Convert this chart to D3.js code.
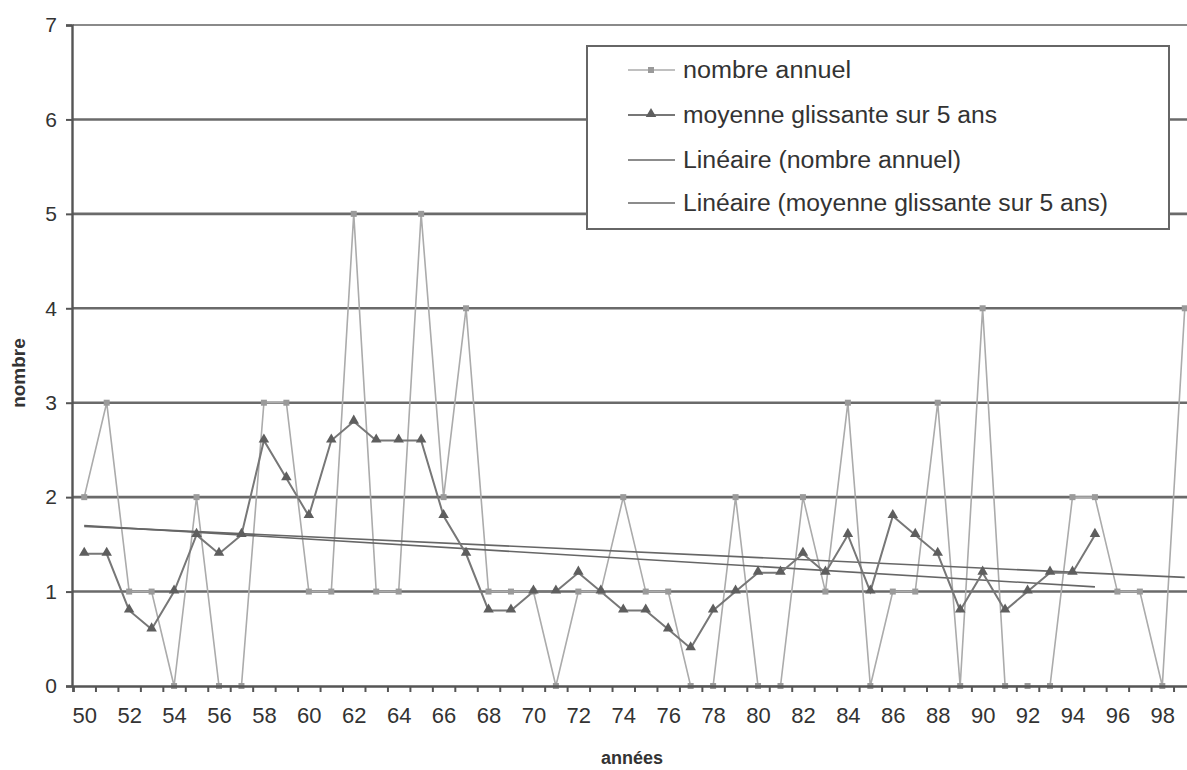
<!DOCTYPE html>
<html lang="fr">
<head>
    <meta charset="UTF-8">
    <title>nombre annuel</title>
    <script src="https://d3js.org/d3.v7.min.js"></script>
    <style>
        body { margin: 0; background: #fff; }
        svg text { font-family: "Liberation Sans", Arial, sans-serif; fill: #333; }
    </style>
</head>
<body>
    <div id="chart-container"></div>

    <script>
        // data
        const years = [50, 51, 52, 53, 54, 55, 56, 57, 58, 59,
                       60, 61, 62, 63, 64, 65, 66, 67, 68, 69,
                       70, 71, 72, 73, 74, 75, 76, 77, 78, 79,
                       80, 81, 82, 83, 84, 85, 86, 87, 88, 89,
                       90, 91, 92, 93, 94, 95, 96, 97, 98, 99];
        const annual = [2, 3, 1, 1, 0, 2, 0, 0, 3, 3,
                        1, 1, 5, 1, 1, 5, 2, 4, 1, 1,
                        1, 0, 1, 1, 2, 1, 1, 0, 0, 2,
                        0, 0, 2, 1, 3, 0, 1, 1, 3, 0,
                        4, 0, 0, 0, 2, 2, 1, 1, 0, 4];
        // moving average is drawn from 50 to 95
        const movingAvg = [1.4, 1.4, 0.8, 0.6, 1.0, 1.6, 1.4, 1.6, 2.6, 2.2,
                           1.8, 2.6, 2.8, 2.6, 2.6, 2.6, 1.8, 1.4, 0.8, 0.8,
                           1.0, 1.0, 1.2, 1.0, 0.8, 0.8, 0.6, 0.4, 0.8, 1.0,
                           1.2, 1.2, 1.4, 1.2, 1.6, 1.0, 1.8, 1.6, 1.4, 0.8,
                           1.2, 0.8, 1.0, 1.2, 1.2, 1.6];
        // trend line ends
        const trendAnnualYears = [50, 99];
        const trendAnnualValues = [1.69, 1.15];
        const trendAvgYears = [50, 95];
        const trendAvgValues = [1.70, 1.05];

        const xTickLabels = [50, 52, 54, 56, 58, 60, 62, 64, 66, 68, 70, 72, 74,
                             76, 78, 80, 82, 84, 86, 88, 90, 92, 94, 96, 98];
        const yTicks = [0, 1, 2, 3, 4, 5, 6, 7];
        const legendLabels = ["nombre annuel", "moyenne glissante sur 5 ans",
                              "Linéaire (nombre annuel)", "Linéaire (moyenne glissante sur 5 ans)"];

        const width = 1187, height = 770;

        const svg = d3.select("#chart-container")
            .append("svg")
            .attr("width", width)
            .attr("height", height);

        const x = d3.scaleLinear().domain([49.5, 99.5]).range([73, 1196]);
        const y = d3.scaleLinear().domain([0, 7]).range([686, 25]);

        // gridlines
        svg.append("g")
            .selectAll("line")
            .data(yTicks.filter(d => d > 0))
            .join("line")
            .attr("x1", x(49.5))
            .attr("x2", x(99.5))
            .attr("y1", d => y(d))
            .attr("y2", d => y(d))
            .attr("stroke", d => d === 7 ? "#8a8a8a" : "#6a6a6a")
            .attr("stroke-width", d => d === 7 ? 2 : 2.6);

        const annualData = years.map((yr, i) => ({ yr: yr, v: annual[i] }));
        const avgData = movingAvg.map((v, i) => ({ yr: years[i], v: v }));

        const line = d3.line().x(d => x(d.yr)).y(d => y(d.v));

        // annual series
        svg.append("path")
            .datum(annualData)
            .attr("fill", "none")
            .attr("stroke", "#ababab")
            .attr("stroke-width", 1.6)
            .attr("d", line);

        // trend lines
        const trendA = trendAnnualYears.map((yr, i) => ({ yr: yr, v: trendAnnualValues[i] }));
        const trendM = trendAvgYears.map((yr, i) => ({ yr: yr, v: trendAvgValues[i] }));
        [trendA, trendM].forEach(t => {
            svg.append("path")
                .datum(t)
                .attr("fill", "none")
                .attr("stroke", "#666")
                .attr("stroke-width", 1.6)
                .attr("d", line);
        });

        // moving average
        svg.append("path")
            .datum(avgData)
            .attr("fill", "none")
            .attr("stroke", "#777")
            .attr("stroke-width", 2)
            .attr("d", line);

        // markers
        svg.append("g")
            .selectAll("rect")
            .data(annualData)
            .join("rect")
            .attr("x", d => x(d.yr) - 3)
            .attr("y", d => y(d.v) - 3)
            .attr("width", 6)
            .attr("height", 6)
            .attr("fill", "#9a9a9a");

        const tri = d3.symbol().type(d3.symbolTriangle).size(48);
        svg.append("g")
            .selectAll("path")
            .data(avgData)
            .join("path")
            .attr("transform", d => `translate(${x(d.yr)},${y(d.v) - 1})`)
            .attr("d", tri)
            .attr("fill", "#5e5e5e");

        // axes
        const xAxis = svg.append("g")
            .attr("transform", `translate(0,${y(0)})`)
            .call(d3.axisBottom(x).tickValues(xTickLabels).tickSize(0).tickPadding(21).tickFormat(d => d));
        xAxis.select(".domain").remove();
        xAxis.selectAll("text").style("font-size", "22px").attr("fill", "#333");

        const xTicks = svg.append("g")
            .attr("transform", `translate(0,${y(0)})`)
            .call(d3.axisBottom(x).tickValues(years.map(v => v - 0.5)).tickSize(6).tickFormat(""));
        xTicks.select(".domain").attr("stroke", "#555").attr("stroke-width", 2.6);
        xTicks.selectAll(".tick line").attr("stroke", "#555").attr("stroke-width", 2);

        const yAxis = svg.append("g")
            .attr("transform", `translate(${x(49.5) - 1},0)`)
            .call(d3.axisLeft(y).tickValues(yTicks).tickSize(6).tickPadding(9).tickFormat(d3.format("d")));
        yAxis.select(".domain").attr("stroke", "#555").attr("stroke-width", 2.4);
        yAxis.selectAll(".tick line").attr("stroke", "#555").attr("stroke-width", 2);
        yAxis.selectAll("text").style("font-size", "21px").attr("fill", "#333");

        // axis titles
        svg.append("text")
            .attr("x", 632)
            .attr("y", 764)
            .attr("text-anchor", "middle")
            .style("font-size", "18px")
            .style("font-weight", "bold")
            .attr("fill", "#222")
            .text("années");

        svg.append("text")
            .attr("transform", "translate(25,373) rotate(-90)")
            .attr("text-anchor", "middle")
            .style("font-size", "19px")
            .style("font-weight", "bold")
            .attr("fill", "#222")
            .text("nombre");

        svg.append("clipPath")
            .attr("id", "ghost")
            .append("rect")
            .attr("x", 28).attr("y", 290).attr("width", 10).attr("height", 90);
        svg.append("text")
            .attr("clip-path", "url(#ghost)")
            .attr("transform", "translate(42,345) rotate(-90)")
            .attr("text-anchor", "middle")
            .style("font-size", "16px")
            .attr("fill", "#444")
            .text("nombre");

        // legend
        const legend = svg.append("g");
        legend.append("rect")
            .attr("x", 587).attr("y", 46)
            .attr("width", 582).attr("height", 183)
            .attr("fill", "#fff")
            .attr("stroke", "#666")
            .attr("stroke-width", 2);

        const rowY = [70, 115, 160, 203];
        const rowWidth = [168, 314, 278, 425];
        const legendStroke = ["#ababab", "#777", "#666", "#666"];
        legendLabels.forEach((label, i) => {
            legend.append("line")
                .attr("x1", 628).attr("x2", 675)
                .attr("y1", rowY[i]).attr("y2", rowY[i])
                .attr("stroke", legendStroke[i])
                .attr("stroke-width", i === 1 ? 2 : 1.6);
            legend.append("text")
                .attr("x", 683)
                .attr("y", rowY[i])
                .attr("dy", "0.35em")
                .attr("textLength", rowWidth[i])
                .attr("lengthAdjust", "spacingAndGlyphs")
                .style("font-size", "23px")
                .attr("fill", "#222")
                .text(label);
        });
        legend.append("rect")
            .attr("x", 648).attr("y", rowY[0] - 3)
            .attr("width", 6).attr("height", 6)
            .attr("fill", "#9a9a9a");
        legend.append("path")
            .attr("transform", `translate(651,${rowY[1] - 1})`)
            .attr("d", tri)
            .attr("fill", "#5e5e5e");
    </script>
</body>
</html>
